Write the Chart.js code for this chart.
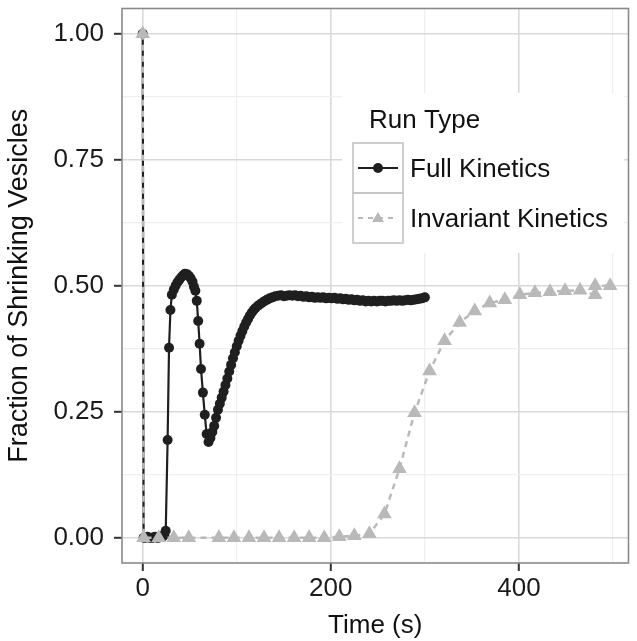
<!DOCTYPE html>
<html>
<head>
<meta charset="utf-8">
<title>Fraction of Shrinking Vesicles</title>
<script src="https://cdn.jsdelivr.net/npm/chart.js@4.4.1/dist/chart.umd.min.js"></script>
<style>
  html, body { margin: 0; padding: 0; background: #fff; }
  #wrap { width: 637px; height: 641px; }
</style>
</head>
<body>
<div id="wrap"><canvas id="chart" width="637" height="641"></canvas></div>
<script>
// Full Kinetics run (black circles, solid line)
const fullTime = [
  0, 1, 3, 5, 7, 9, 11, 13, 15, 17, 19, 21, 23, 24.5, 26.5, 28, 29.5, 31, 33, 35, 37,
  39, 41, 43, 45, 47, 49, 51, 53, 54.5, 56, 57.5, 59, 60.5, 62, 64, 66, 68, 70,
  72, 74, 76, 78, 80, 82, 84, 86, 88, 90, 92, 94, 96, 98, 100, 102, 104, 106, 108,
  110, 112, 114, 116, 118, 120, 123, 126, 129, 132, 135, 138, 141, 144, 147,
  150, 153, 156, 159, 162, 165, 168, 171, 174, 177, 180, 183, 186, 189, 192, 195,
  198, 201, 204, 207, 210, 213, 216, 219, 222, 225, 228, 231, 234, 237, 240, 243,
  246, 249, 252, 255, 258, 261, 264, 267, 270, 273, 276, 279, 282, 285, 288, 291,
  294, 297, 300
];
const fullFrac = [
  1.0, 0.0, 0.0, 0.002, 0.0, 0.0, 0.0, 0.002, 0.0, 0.0, 0.003, 0.002, 0.005, 0.014, 0.194, 0.377, 0.452, 0.482, 0.492, 0.5, 0.507,
  0.512, 0.517, 0.521, 0.524, 0.523, 0.52, 0.515, 0.508, 0.498, 0.49, 0.47, 0.43, 0.385, 0.335, 0.288, 0.244, 0.206, 0.19,
  0.198, 0.21, 0.222, 0.238, 0.254, 0.266, 0.278, 0.29, 0.303, 0.316, 0.33, 0.343, 0.356, 0.368, 0.38, 0.391, 0.401, 0.41, 0.419,
  0.427, 0.434, 0.441, 0.447, 0.452, 0.456, 0.461, 0.465, 0.469, 0.472, 0.475, 0.477, 0.479, 0.48, 0.481,
  0.479, 0.48, 0.481, 0.48, 0.481, 0.479, 0.48, 0.478, 0.479, 0.477, 0.478, 0.476, 0.477, 0.476, 0.477, 0.475,
  0.476, 0.475, 0.476, 0.474, 0.475, 0.473, 0.474, 0.472, 0.473, 0.471, 0.472, 0.47, 0.471, 0.469, 0.47, 0.469,
  0.47, 0.469, 0.47, 0.47, 0.469, 0.47, 0.47, 0.471, 0.47, 0.471, 0.47, 0.471, 0.472, 0.471, 0.472, 0.473,
  0.474, 0.475, 0.477
];

// Invariant Kinetics run (grey triangles, dashed line)
const invTime = [
  0, 1, 17, 33, 49, 81, 97, 113, 129, 145, 161, 177, 193, 209, 225, 241, 257, 273,
  289, 305, 321, 337, 353, 369, 385, 401, 417, 433, 449, 465, 481, 481, 497
];
const invFrac = [
  1.0, 0.0, 0.0, 0.0, 0.0, 0.0, 0.0, 0.0, 0.0, 0.0, 0.0, 0.0, 0.0, 0.002, 0.004, 0.008, 0.047, 0.137,
  0.248, 0.331, 0.391, 0.427, 0.45, 0.466, 0.472, 0.482, 0.486, 0.488, 0.49, 0.491, 0.482, 0.5, 0.5
];

// axis ticks (odd ones are minor grid lines only)
const xTicks = [0, 100, 200, 300, 400, 500];
const xLabelled = [0, 200, 400];
const yTicks = [0, 0.125, 0.25, 0.375, 0.5, 0.625, 0.75, 0.875, 1];
const yLabelled = [0, 0.25, 0.5, 0.75, 1];

const seriesNames = ['Full Kinetics', 'Invariant Kinetics'];
const legendTitle = 'Run Type';

const FONT = "'Liberation Sans', Arial, Helvetica, sans-serif";
const BLACK = '#1f1f1f';
const GREY = '#b9b9b9';

const isMajor = (list, v) => list.some(t => Math.abs(t - v) < 1e-9);

function gridOpts(labelled) {
    return {
        color: c => isMajor(labelled, c.tick.value) ? '#d9d9d9' : '#efefef',
        lineWidth: c => isMajor(labelled, c.tick.value) ? 1.6 : 1.2,
        tickColor: c => isMajor(labelled, c.tick.value) ? '#333' : 'rgba(0,0,0,0)',
        tickWidth: 2,
        tickLength: 8,
        drawTicks: true
    };
}

// grey frame round the panel
const panelFrame = {
    id: 'panelFrame',
    afterDraw(chart) {
        const { ctx, chartArea: a } = chart;
        ctx.save();
        ctx.strokeStyle = '#8a8a8a';
        ctx.lineWidth = 1.6;
        ctx.strokeRect(a.left, a.top, a.right - a.left, a.bottom - a.top);
        ctx.restore();
    }
};

// ggplot style legend inside the panel
const runLegend = {
    id: 'runLegend',
    afterDraw(chart) {
        const ctx = chart.ctx;
        ctx.save();
        ctx.fillStyle = '#fff';
        ctx.fillRect(342, 93, 282, 160);

        ctx.fillStyle = '#111';
        ctx.font = '26px ' + FONT;
        ctx.textBaseline = 'alphabetic';
        ctx.textAlign = 'left';
        ctx.fillText(legendTitle, 369, 128);

        const boxX = 353, boxW = 50, rows = [143, 193];
        rows.forEach((top, i) => {
            ctx.strokeStyle = '#c4c4c4';
            ctx.lineWidth = 1.6;
            ctx.strokeRect(boxX, top, boxW, boxW);
            const cy = top + 25;
            ctx.beginPath();
            ctx.moveTo(boxX + 5, cy);
            ctx.lineTo(boxX + boxW - 5, cy);
            if (i === 0) {
                ctx.setLineDash([]);
                ctx.strokeStyle = BLACK;
                ctx.lineWidth = 2.2;
                ctx.stroke();
                ctx.fillStyle = BLACK;
                ctx.beginPath();
                ctx.arc(boxX + 25, cy, 5, 0, Math.PI * 2);
                ctx.fill();
            } else {
                ctx.setLineDash([5, 5]);
                ctx.strokeStyle = GREY;
                ctx.lineWidth = 2.2;
                ctx.stroke();
                ctx.setLineDash([]);
                ctx.fillStyle = GREY;
                ctx.beginPath();
                ctx.moveTo(boxX + 25, cy - 6);
                ctx.lineTo(boxX + 31, cy + 4);
                ctx.lineTo(boxX + 19, cy + 4);
                ctx.closePath();
                ctx.fill();
            }
            ctx.fillStyle = '#111';
            ctx.fillText(seriesNames[i], 410, top + 34);
        });
        ctx.restore();
    }
};

const ctx = document.getElementById('chart').getContext('2d');
new Chart(ctx, {
    type: 'line',
    data: {
        datasets: [
            {
                label: seriesNames[1],
                data: invTime.map((t, i) => ({ x: t, y: invFrac[i] })),
                borderColor: GREY,
                borderWidth: 2.5,
                borderDash: [6, 5],
                pointStyle: 'triangle',
                pointRadius: 8.5,
                pointBorderWidth: 0,
                pointBackgroundColor: GREY,
                order: 0
            },
            {
                label: seriesNames[0],
                data: fullTime.map((t, i) => ({ x: t, y: fullFrac[i] })),
                borderColor: BLACK,
                borderWidth: 2.2,
                pointStyle: 'circle',
                pointRadius: 5,
                pointBorderWidth: 0,
                pointBackgroundColor: BLACK,
                order: 1
            }
        ]
    },
    options: {
        responsive: false,
        animation: false,
        events: [],
        layout: { padding: { top: 8, right: 2, left: 0, bottom: 0 } },
        elements: { line: { tension: 0 } },
        plugins: {
            legend: { display: false },
            tooltip: { enabled: false }
        },
        scales: {
            x: {
                type: 'linear',
                min: -22,
                max: 516.5,
                border: { display: false },
                grid: gridOpts(xLabelled),
                afterBuildTicks: s => { s.ticks = xTicks.map(v => ({ value: v })); },
                afterFit: s => { s.height = 78; s.paddingLeft = 0; s.paddingRight = 0; },
                ticks: {
                    autoSkip: false,
                    maxRotation: 0,
                    padding: 2,
                    color: '#1a1a1a',
                    font: { family: FONT, size: 26 },
                    callback: v => isMajor(xLabelled, v) ? String(v) : ''
                },
                title: {
                    display: true,
                    text: 'Time (s)',
                    color: '#111',
                    font: { family: FONT, size: 26 },
                    padding: { top: 0, bottom: 0 }
                }
            },
            y: {
                type: 'linear',
                min: -0.05,
                max: 1.05,
                border: { display: false },
                grid: gridOpts(yLabelled),
                afterBuildTicks: s => { s.ticks = yTicks.map(v => ({ value: v })); },
                afterFit: s => { s.width = 122; s.paddingTop = 0; s.paddingBottom = 0; },
                ticks: {
                    autoSkip: false,
                    padding: 10,
                    color: '#1a1a1a',
                    font: { family: FONT, size: 26 },
                    callback: v => isMajor(yLabelled, v) ? v.toFixed(2) : ''
                },
                title: {
                    display: true,
                    text: 'Fraction of Shrinking Vesicles',
                    color: '#111',
                    font: { family: FONT, size: 27 },
                    padding: { top: 3, bottom: 0 }
                }
            }
        }
    },
    plugins: [panelFrame, runLegend]
});
</script>
</body>
</html>
